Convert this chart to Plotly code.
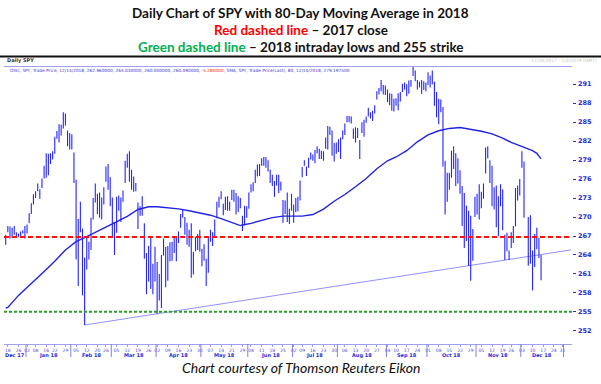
import plotly.graph_objects as go
import pandas as pd

# ---------------- data ----------------
market_holidays = ["2017-12-25", "2018-01-01", "2018-01-15", "2018-02-19", "2018-03-30",
                   "2018-05-28", "2018-07-04", "2018-09-03", "2018-11-22", "2018-12-25",
                   "2019-01-01"]
axis_start = "2017-12-15"
axis_end = "2019-01-08"

spy_high = [
    # Dec 2017
    267.2, 268.6, 268.5, 268.3, 268.6, 267.6, 267.4, 267.7, 267.9, 268.6,
    # Jan 2018
    268.8, 270.6, 272.2, 273.6, 274.1, 275.3, 274.4, 276.1, 278.1, 280.1, 280.0, 280.1, 280.4,
    282.7, 283.6, 284.7, 284.6, 286.6, 286.4, 283.7, 283.3,
    # Feb
    283.1, 280.2, 275.9, 269.7, 272.4, 268.2, 263.6, 267.0, 266.1, 269.9, 273.0, 275.3, 273.7,
    273.9, 273.1, 274.7, 278.0, 278.4, 276.3,
    # Mar
    273.1, 269.2, 273.2, 273.4, 273.1, 274.2, 278.9, 280.0, 280.4, 277.5, 276.4, 275.4, 272.3,
    271.7, 273.3, 269.0, 264.3, 265.4, 266.7, 262.6, 265.3,
    # Apr
    262.9, 261.0, 264.0, 266.6, 265.3, 265.4, 266.0, 266.1, 266.9, 267.0, 267.7, 270.5, 271.1,
    270.0, 269.1, 268.0, 269.0, 264.5, 266.9, 267.3, 268.0,
    # May
    265.0, 265.7, 263.4, 266.8, 268.0, 267.6, 269.6, 272.4, 273.2, 274.1, 272.1, 273.2, 273.3,
    272.4, 274.3, 274.3, 273.8, 273.3, 273.0, 270.2, 271.8, 271.7,
    # Jun
    273.9, 275.2, 275.5, 277.5, 278.3, 278.4, 279.3, 279.5, 279.5, 279.0, 277.5, 276.7, 275.7,
    276.7, 276.7, 275.6, 272.7, 272.6, 273.9, 271.3, 273.7,
    # Jul
    272.0, 273.0, 273.2, 275.8, 277.9, 279.0, 278.0, 279.4, 280.2, 279.9, 280.6, 281.2, 280.8,
    280.5, 280.4, 282.6, 284.4, 284.3, 283.7, 281.7, 281.8,
    # Aug
    282.3, 282.6, 283.7, 284.8, 286.0, 286.0, 285.9, 284.0, 284.2, 284.1, 282.2, 285.0, 285.4,
    285.9, 287.3, 286.6, 286.8, 287.7, 289.9, 290.4, 291.7, 290.9, 290.8,
    # Sep
    290.2, 289.6, 289.5, 288.7, 288.8, 289.6, 289.8, 291.1, 291.3, 291.0, 291.6, 291.7, 293.9,
    293.2, 291.7, 291.4, 291.7, 291.5, 291.3,
    # Oct
    292.9, 292.4, 293.2, 291.4, 289.8, 288.7, 288.6, 287.4, 278.9, 277.0, 277.0, 280.5, 281.2,
    280.1, 279.3, 277.4, 274.9, 273.8, 271.8, 271.0, 270.2, 268.1, 273.2,
    # Nov
    273.7, 275.2, 274.0, 275.3, 281.0, 281.2, 279.0, 278.1, 274.7, 275.0, 273.3, 275.2, 274.4,
    267.2, 267.5, 264.7, 267.6, 268.6, 274.6, 275.0, 276.0,
    # Dec 2018
    280.4, 278.8, None, 270.0, 270.3, 264.7, 267.3, 268.3, 266.7, 264.0,
]

spy_low = [
    # Dec 2017
    265.6, 267.6, 266.6, 266.7, 267.2, 266.9, 266.9, 267.0, 267.4, 266.6,
    # Jan 2018
    267.4, 269.0, 270.5, 272.0, 273.0, 274.1, 272.9, 274.6, 276.1, 276.2, 276.6, 278.4, 279.1,
    280.0, 282.4, 281.8, 282.9, 284.0, 284.5, 281.2, 280.7,
    # Feb
    280.7, 275.4, 263.3, 259.1, 267.6, 257.6, 252.9, 261.7, 263.3, 264.8, 269.6, 272.3, 270.5,
    269.9, 269.6, 272.0, 275.6, 274.3, 271.7,
    # Mar
    267.0, 264.0, 267.5, 271.0, 269.2, 272.4, 275.4, 277.8, 275.6, 274.3, 274.0, 274.1, 268.1,
    270.2, 270.2, 263.4, 257.8, 259.8, 258.6, 257.8, 259.8,
    # Apr
    254.7, 256.8, 255.6, 263.9, 258.9, 259.9, 263.0, 263.1, 264.3, 263.0, 265.9, 268.3, 269.9,
    267.2, 265.6, 265.3, 260.4, 260.9, 264.6, 264.8, 264.5,
    # May
    262.2, 263.1, 259.1, 261.2, 266.1, 265.4, 266.9, 269.8, 271.5, 272.8, 270.3, 271.1, 271.0,
    271.0, 272.7, 272.4, 270.4, 270.8, 271.4, 267.8, 268.7, 269.9,
    # Jun
    271.3, 273.9, 274.1, 275.4, 276.4, 276.5, 278.1, 278.1, 277.8, 277.2, 275.4, 274.9, 273.2,
    275.0, 273.8, 274.2, 269.1, 270.5, 269.2, 268.9, 271.0,
    # Jul
    269.1, 270.8, 270.9, 272.6, 276.3, 278.1, 276.5, 277.8, 279.1, 278.9, 278.5, 280.1, 279.2,
    279.2, 278.9, 280.8, 280.7, 283.0, 279.7, 278.8, 280.0,
    # Aug
    280.3, 279.2, 282.3, 283.0, 285.0, 285.0, 284.8, 282.4, 281.8, 282.5, 279.2, 283.3, 282.7,
    284.9, 285.9, 285.6, 285.2, 286.4, 288.6, 289.4, 289.9, 289.4, 289.3,
    # Sep
    288.2, 287.7, 286.8, 286.7, 287.6, 286.9, 288.3, 289.8, 290.2, 289.1, 289.5, 290.6, 292.3,
    291.5, 290.2, 290.5, 289.5, 290.1, 289.9,
    # Oct
    290.9, 290.5, 291.0, 287.6, 285.8, 284.7, 286.6, 278.0, 270.4, 272.4, 274.3, 276.2, 277.6,
    274.9, 275.3, 273.7, 268.6, 265.1, 266.2, 262.3, 259.9, 263.1, 270.0,
    # Nov
    270.4, 269.6, 271.4, 272.9, 276.9, 279.3, 275.4, 271.7, 271.2, 268.4, 267.0, 271.7, 267.9,
    263.2, 264.6, 263.2, 265.1, 265.9, 268.5, 272.6, 273.4,
    # Dec 2018
    277.8, 269.9, None, 262.3, 262.6, 258.4, 262.1, 264.9, 263.5, 260.0,
]

ma_dates = ["2017-12-15", "2017-12-18", "2017-12-26", "2018-01-02", "2018-01-08", "2018-01-16",
            "2018-01-22", "2018-01-29", "2018-02-05", "2018-02-12", "2018-02-20", "2018-02-26",
            "2018-03-05", "2018-03-12", "2018-03-19", "2018-03-26", "2018-04-02", "2018-04-09",
            "2018-04-16", "2018-04-23", "2018-04-30", "2018-05-07", "2018-05-14", "2018-05-21",
            "2018-05-25", "2018-05-29", "2018-06-04", "2018-06-11", "2018-06-18", "2018-06-25",
            "2018-07-02", "2018-07-09", "2018-07-16", "2018-07-23", "2018-07-30", "2018-08-06",
            "2018-08-13", "2018-08-20", "2018-08-27", "2018-09-04", "2018-09-10", "2018-09-17",
            "2018-09-24", "2018-10-01", "2018-10-08", "2018-10-15", "2018-10-22", "2018-10-29",
            "2018-11-05", "2018-11-12", "2018-11-19", "2018-11-26", "2018-12-03", "2018-12-10",
            "2018-12-12", "2018-12-14"]
ma_values = [255.6, 255.7, 257.6, 258.8, 260.1, 261.7, 263.0, 264.8, 266.1, 266.9, 267.75, 268.4,
             269.3, 270.1, 271.2, 271.63, 271.63, 271.46, 271.29, 271.0, 270.68, 270.29, 269.75,
             269.12, 268.65, 268.75, 269.0, 269.47, 269.9, 270.15, 270.1, 270.15, 270.4, 271.26,
             272.5, 273.56, 274.8, 276.1, 277.65, 278.9, 279.5, 280.5, 281.9, 283.0, 283.65,
             284.02, 284.17, 283.87, 283.58, 283.15, 282.49, 281.8, 281.15, 280.5, 280.08, 279.2]

trend_dates = ["2018-02-09", "2019-01-07"]
trend_values = [252.92, 264.8]

close_2017 = 266.86
strike_level = 255.0
y_ticks = [252, 255, 258, 261, 264, 267, 270, 273, 276, 279, 282, 285, 288, 291]
month_names = ["Dec 17", "Jan 18", "Feb 18", "Mar 18", "Apr 18", "May 18", "Jun 18",
               "Jul 18", "Aug 18", "Sep 18", "Oct 18", "Nov 18", "Dec 18"]

title_lines = [
    "Daily Chart of SPY with 80-Day Moving Average in 2018",
    "<span style='color:#ff0000'>Red dashed line</span> – 2017 close",
    "<span style='color:#00b050'>Green dashed line</span> – 2018 intraday lows and 255 strike",
]
caption = "Chart courtesy of Thomson Reuters Eikon"
info_text = ("Ohlc, SPY, Trade Price, 12/14/2018, 262.960000, 264.030000, 260.000000, 260.090000, "
             "<span style='color:#ff2020'>-5.280000</span>, SMA, SPY, Trade Price(Last), 80, "
             "12/14/2018, 279.197500")

# ---------------- trading-day axis ----------------
hol = set(pd.to_datetime(market_holidays))
calendar = [d for d in pd.bdate_range(axis_start, axis_end) if d not in hol]
pos = {d.strftime("%Y-%m-%d"): i for i, d in enumerate(calendar)}

W, H = 601, 384
px_left, px_right, px_top, px_bottom = 4, 572, 66.5, 344
x_range = [-0.8, 265.5]
y_range = [249.91, 293.82]
blue_txt = "#2a2ad8"

def py(ypx):
    return (H - ypx) / H

# bars as vertical high-low segments
bx, by = [], []
for i, (hi, lo) in enumerate(zip(spy_high, spy_low)):
    if hi is None:
        continue
    bx += [i, i, None]
    by += [lo, hi, None]

fig = go.Figure()
fig.add_trace(go.Scatter(x=[pos[d] for d in trend_dates], y=trend_values, mode="lines",
                         line=dict(color="#9090ff", width=1), hoverinfo="skip", showlegend=False))
fig.add_trace(go.Scatter(x=bx, y=by, mode="lines", line=dict(color="#2424ff", width=1.1),
                         hoverinfo="skip", showlegend=False))
fig.add_trace(go.Scatter(x=[pos[d] for d in ma_dates], y=ma_values, mode="lines",
                         line=dict(color="#2222e4", width=1.4), hoverinfo="skip", showlegend=False))

# reference levels
fig.add_shape(type="line", xref="x domain", x0=0, x1=1, yref="y", y0=close_2017, y1=close_2017,
              line=dict(color="#ff1010", width=2, dash="5px,3px"), layer="above")
fig.add_shape(type="line", xref="x domain", x0=0, x1=1, yref="y", y0=strike_level, y1=strike_level,
              line=dict(color="#2aa02a", width=2, dash="3px,2px"), layer="above")

# week ticks (first trading day of each week) through end of 2018
tickvals, ticktext = [], []
prev_week = None
for i, d in enumerate(calendar):
    wk = d.isocalendar()[:2]
    if i > 0 and wk != prev_week and d.year <= 2018:
        tickvals.append(i)
        ticktext.append(d.strftime("%d"))
    prev_week = wk

# month segments
month_first = []
for i, d in enumerate(calendar):
    if i == 0 or d.month != calendar[i - 1].month:
        month_first.append(i)
for m in month_first[1:]:
    if m > x_range[1]:
        break
    fig.add_shape(type="line", xref="x", x0=m - 0.5, x1=m - 0.5, yref="paper",
                  y0=py(357), y1=py(344), line=dict(color="#8080e8", width=1))

annotations = []
for j, name in enumerate(month_names):
    a = max(month_first[j], x_range[0])
    b = month_first[j + 1] - 1
    annotations.append(dict(x=(a + b) / 2, xref="x", y=py(355), yref="paper", text=name,
                            showarrow=False,
                            font=dict(size=5, color=blue_txt, family="DejaVu Sans", weight="bold"),
                            xanchor="center", yanchor="middle"))

# y tick labels placed right of the tick marks
for v in y_ticks:
    annotations.append(dict(x=575.5 / W, xref="paper", y=v, yref="y", text=str(v), showarrow=False,
                            font=dict(size=6.5, color=blue_txt, family="DejaVu Sans", weight="bold"),
                            xanchor="left", yanchor="middle"))

title_font = dict(family="Lato", size=13.5, color="#111111", weight="bold")
for t, ypx in zip(title_lines, [13, 30, 47]):
    annotations.append(dict(x=0.5, xref="paper", y=py(ypx), yref="paper", text=t, showarrow=False,
                            font=title_font, xanchor="center", yanchor="middle"))
annotations.append(dict(x=0.5, xref="paper", y=py(367.5), yref="paper", text="<i>" + caption + "</i>",
                        showarrow=False, font=dict(family="Lato", size=14, color="#111111"),
                        xanchor="center", yanchor="middle"))
annotations.append(dict(x=5 / W, xref="paper", y=py(60), yref="paper", text="Daily SPY",
                        showarrow=False,
                        font=dict(family="DejaVu Sans", size=5, color="#333333", weight="bold"),
                        xanchor="left", yanchor="middle"))
annotations.append(dict(x=599 / W, xref="paper", y=py(60), yref="paper",
                        text="12/18/2017 - 1/3/2019 (GMT)", showarrow=False,
                        font=dict(family="DejaVu Sans", size=4.5, color="#c4c4c4"),
                        xanchor="right", yanchor="middle"))
annotations.append(dict(x=8 / W, xref="paper", y=py(70.5), yref="paper", text=info_text,
                        showarrow=False, font=dict(family="DejaVu Sans", size=4.3, color="#3a3ad0"),
                        xanchor="left", yanchor="middle"))

# black rule under the title
fig.add_shape(type="line", xref="paper", x0=0, x1=1, yref="paper", y0=py(56.5), y1=py(56.5),
              line=dict(color="#111111", width=2))

fig.update_layout(
    width=W, height=H, autosize=False,
    margin=dict(l=0, r=0, t=0, b=0),
    paper_bgcolor="white", plot_bgcolor="white",
    showlegend=False,
    annotations=annotations,
    xaxis=dict(domain=[px_left / W, px_right / W], range=x_range, tickvals=tickvals, ticktext=ticktext,
               tickfont=dict(size=4.5, color="#4a4ad8", family="DejaVu Sans"), ticks="outside", ticklen=2,
               tickcolor="#9a9af0", showline=True, linecolor="#a0a0f0", linewidth=1, mirror=True,
               showgrid=False, zeroline=False, tickangle=0),
    yaxis=dict(domain=[py(px_bottom), py(px_top)], range=y_range, side="right", tickvals=y_ticks,
               ticks="outside", ticklen=3, tickcolor=blue_txt, showticklabels=False,
               showgrid=False, zeroline=False, showline=False),
)

fig.write_html("out.html", config={"displayModeBar": False},
               post_script="document.body.style.margin='0';document.body.style.overflow='hidden';")
